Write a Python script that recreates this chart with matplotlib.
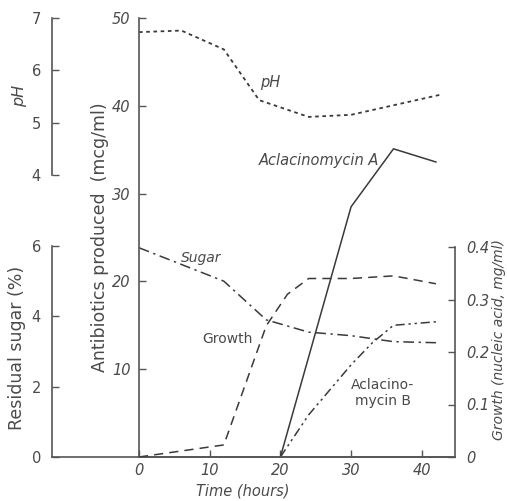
import matplotlib.pyplot as plt
import numpy as np

# fermentation time course
ph_time = [0, 6, 12, 17, 24, 30, 42.5]
ph_vals = [6.73, 6.76, 6.40, 5.43, 5.11, 5.15, 5.53]

sugar_time = [0, 12, 18, 24, 30, 36, 42]
sugar_vals = [5.95, 5.0, 3.9, 3.55, 3.45, 3.28, 3.25]

growth_time = [0, 12, 18, 21, 24, 30, 36, 42]
growth_vals = [0.0, 0.023, 0.25, 0.31, 0.34, 0.34, 0.345, 0.33]

acmA_time = [20, 30, 36, 42]
acmA_vals = [0, 28.5, 35.1, 33.6]

acmB_time = [20, 24, 30, 33, 36, 42]
acmB_vals = [0, 4.8, 10.5, 13.0, 15.0, 15.4]

time_ticks = [0, 10, 20, 30, 40]
ab_ticks = [10, 20, 30, 40, 50]
ph_ticks = [4, 5, 6, 7]
sugar_ticks = [0, 2, 4, 6]
growth_ticks = [0, 0.1, 0.2, 0.3, 0.4]

W, H = 507, 501
ink = '#3a3a3a'
txt = '#4a4a4a'

plt.rcParams['font.family'] = 'DejaVu Sans'
plt.rcParams['font.size'] = 10

def rect(x0, y0, x1, y1):
    return [x0 / W, 1 - y1 / H, (x1 - x0) / W, (y1 - y0) / H]

def fig_xy(x, y):
    return x / W, 1 - y / H

xmax = 44.7
xmin = xmax - (455 - 52) * xmax / (455 - 139)

fig = plt.figure(figsize=(W / 100, H / 100), dpi=100)

def clean(ax, keep):
    for s in ['left', 'right', 'top', 'bottom']:
        ax.spines[s].set_visible(s in keep)
        ax.spines[s].set_color('#555555')
        ax.spines[s].set_linewidth(1.2)
    ax.patch.set_visible(False)
    ax.tick_params(direction='in', length=5, width=1, colors='#555555',
                   labelcolor=txt, labelsize=10.5)

# residual sugar axis (also carries the long bottom line)
ax_s = fig.add_axes(rect(52, 246, 455, 457))
clean(ax_s, ['left', 'bottom'])
ax_s.set_xlim(xmin, xmax)
ax_s.set_ylim(0, 6)
ax_s.set_yticks(sugar_ticks)
ax_s.set_xticks([])
ax_s.tick_params(axis='y', pad=8)
ax_s.plot(sugar_time, sugar_vals, color=ink, lw=1.1, dashes=(7, 3, 1.5, 3))

# pH axis
ax_p = fig.add_axes(rect(52, 18, 455, 175))
clean(ax_p, ['left'])
ax_p.set_xlim(xmin, xmax)
ax_p.set_ylim(4, 7)
ax_p.set_yticks(ph_ticks)
ax_p.set_xticks([])
ax_p.tick_params(axis='y', pad=8)
ax_p.plot(ph_time, ph_vals, color=ink, lw=1.3, dashes=(2, 2))

# antibiotics (main) axis
ax = fig.add_axes(rect(139, 18, 455, 457))
clean(ax, ['left', 'bottom'])
ax.set_xlim(0, xmax)
ax.set_ylim(0, 50)
ax.set_yticks(ab_ticks)
ax.set_xticks(time_ticks)
ax.tick_params(axis='x', pad=4)
ax.tick_params(axis='y', pad=6)
for lab in ax.get_xticklabels() + ax.get_yticklabels():
    lab.set_style('italic')
ax.plot(acmA_time, acmA_vals, color=ink, lw=1.1)
ax.plot(acmB_time, acmB_vals, color=ink, lw=1.1, dashes=(6, 2.5, 1.5, 2.5, 1.5, 2.5))

# growth axis on right
ax_g = fig.add_axes(rect(139, 247, 455, 457))
clean(ax_g, ['right'])
ax_g.set_xlim(0, xmax)
ax_g.set_ylim(0, 0.4)
ax_g.yaxis.tick_right()
ax_g.set_yticks(growth_ticks)
ax_g.set_yticklabels(['0', '0.1', '0.2', '0.3', '0.4'])
ax_g.set_xticks([])
ax_g.tick_params(axis='y', pad=8)
for lab in ax_g.get_yticklabels():
    lab.set_style('italic')
ax_g.plot(growth_time, growth_vals, color=ink, lw=1.1, dashes=(6, 4))

# axis titles
fig.text(*fig_xy(20, 96), 'pH', rotation=90, ha='center', va='center', color=txt, fontsize=11.5, style='italic')
fig.text(*fig_xy(17, 348), 'Residual sugar (%)', rotation=90, ha='center', va='center', color=txt, fontsize=12.5)
fig.text(*fig_xy(100, 237), 'Antibiotics produced  (mcg/ml)', rotation=90, ha='center', va='center', color=txt, fontsize=12.5)
fig.text(*fig_xy(499, 340), 'Growth (nucleic acid, mg/ml)', rotation=90, ha='center', va='center', color=txt, fontsize=10, style='italic')
fig.text(*fig_xy(243, 491), 'Time (hours)', ha='center', va='center', color=txt, fontsize=10.5, style='italic')

# curve labels
fig.text(*fig_xy(270, 82), 'pH', ha='center', va='center', color=txt, fontsize=10.5, style='italic')
fig.text(*fig_xy(319, 161), 'Aclacinomycin A', ha='center', va='center', color=txt, fontsize=10.5, style='italic')
fig.text(*fig_xy(201, 258), 'Sugar', ha='center', va='center', color=txt, fontsize=10, style='italic')
fig.text(*fig_xy(227, 339), 'Growth', ha='center', va='center', color=txt, fontsize=10)
fig.text(*fig_xy(383, 393), 'Aclacino-\nmycin B', ha='center', va='center', color=txt, fontsize=10, linespacing=1.1)

fig.savefig('out.png', dpi=100)
